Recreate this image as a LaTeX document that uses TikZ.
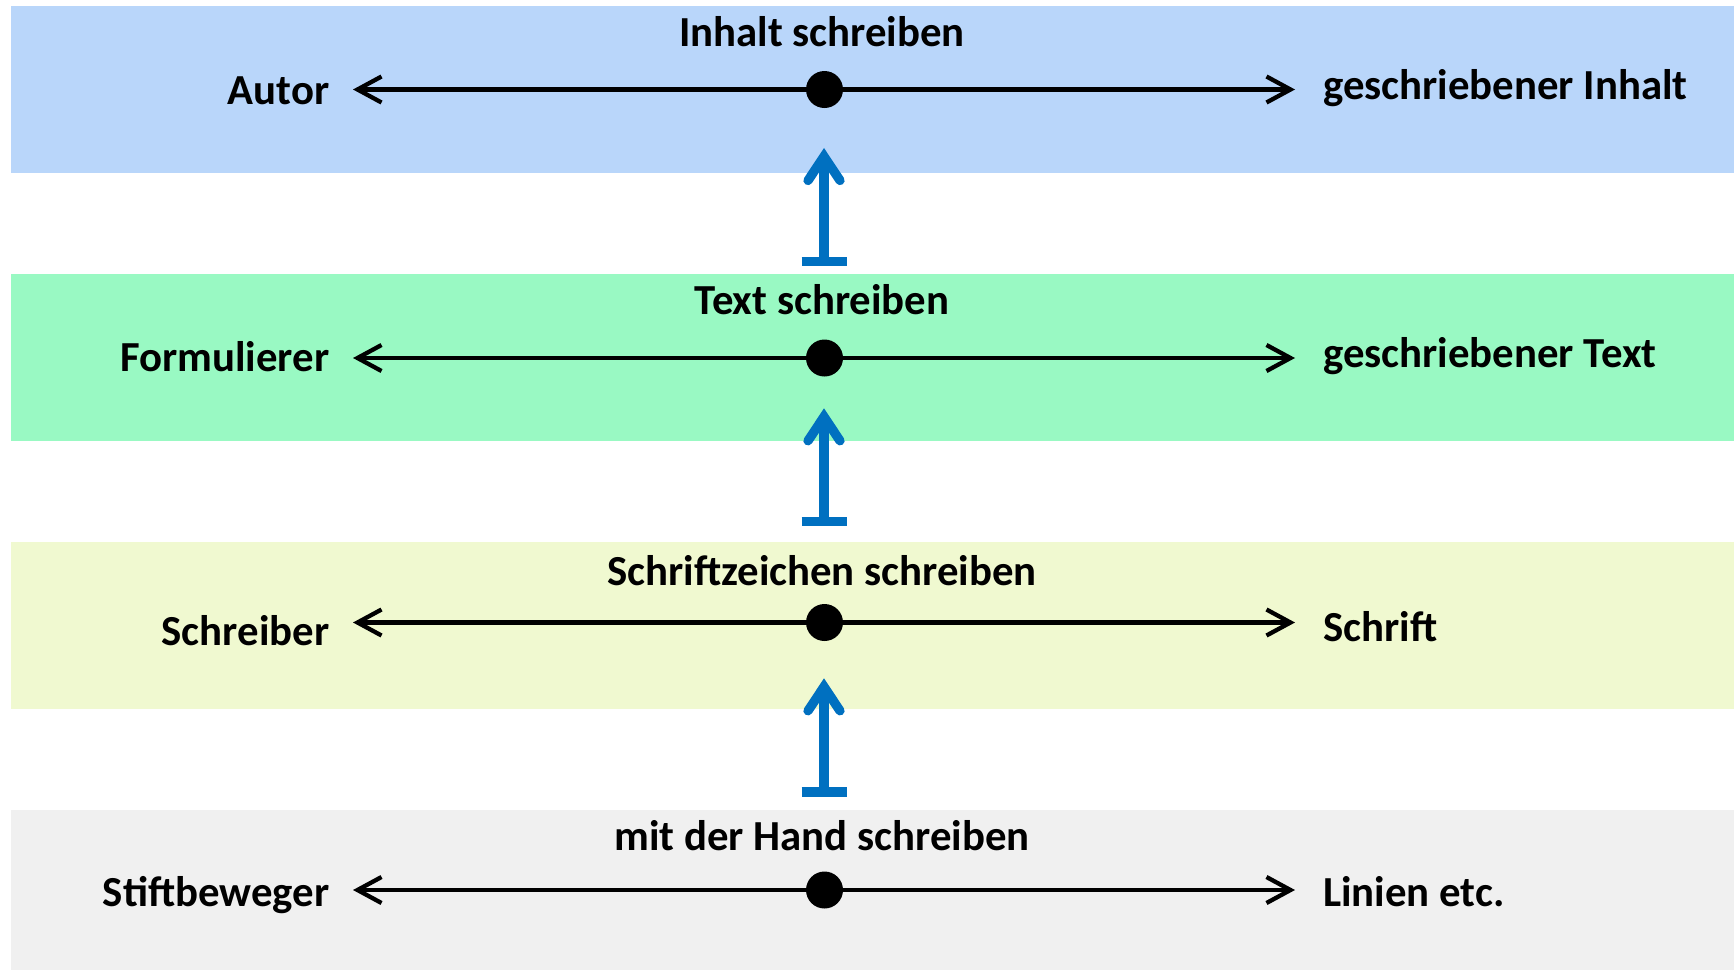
\documentclass[tikz,border=0pt]{standalone}
\usepackage{fontspec}
\setmainfont{Carlito}
\usetikzlibrary{arrows.meta,calc}
\definecolor{bandA}{RGB}{185,214,250}
\definecolor{bandB}{RGB}{153,249,195}
\definecolor{bandC}{RGB}{240,249,208}
\definecolor{bandD}{RGB}{240,240,240}
\definecolor{upblue}{RGB}{0,112,192}
\tikzset{
  band/.style={fill=#1,draw=none},
  lbl/.style={inner sep=0pt,font=\fontsize{42.8}{50}\selectfont\bfseries,text=black},
  dotnode/.style={circle,fill=black,inner sep=0pt,minimum size=37pt},
  blk/.style={line width=4.3pt,-{Straight Barb[length=24pt,width=26pt]}},
  shaft/.style={line width=9.3pt,draw=upblue,line cap=butt},
  barline/.style={line width=9.5pt,draw=upblue,line cap=butt},
  chev/.style={line width=9.3pt,draw=upblue,line cap=round,line join=miter}
}
\begin{document}
\begin{tikzpicture}[x=1pt,y=-1pt]
\useasboundingbox (0,0) rectangle (1734,970);
% bands
\fill[band=bandA] (11,6) rectangle (1734,172.7);
\fill[band=bandB] (11,274) rectangle (1734,440.7);
\fill[band=bandC] (11,541.7) rectangle (1734,709);
\fill[band=bandD] (11,810) rectangle (1734,970);

% band 1
\node[lbl,anchor=base] (t1) at (822,46.7) {Inhalt schreiben};
\node[lbl,anchor=base east] (l1) at (329.5,104) {Autor};
\node[lbl,anchor=base west] (r1) at (1323,99.3) {geschriebener Inhalt};
\node[dotnode] (d1) at (824.5,89.5) {};
\coordinate (la1) at (353,89.5);
\coordinate (ra1) at (1295,89.5);
\draw[blk] (d1) -- (la1);
\draw[blk] (d1) -- (ra1);

% band 2
\node[lbl,anchor=base] (t2) at (822,314.5) {Text schreiben};
\node[lbl,anchor=base east] (l2) at (329.5,371.7) {Formulierer};
\node[lbl,anchor=base west] (r2) at (1323,367) {geschriebener Text};
\node[dotnode] (d2) at (824.5,358) {};
\coordinate (la2) at (353,358);
\coordinate (ra2) at (1295,358);
\draw[blk] (d2) -- (la2);
\draw[blk] (d2) -- (ra2);

% band 3
\node[lbl,anchor=base] (t3) at (822,585) {Schriftzeichen schreiben};
\node[lbl,anchor=base east] (l3) at (329.5,645) {Schreiber};
\node[lbl,anchor=base west] (r3) at (1323,641) {Schrift};
\node[dotnode] (d3) at (824.5,622.5) {};
\coordinate (la3) at (353,622.5);
\coordinate (ra3) at (1295,622.5);
\draw[blk] (d3) -- (la3);
\draw[blk] (d3) -- (ra3);

% band 4
\node[lbl,anchor=base] (t4) at (822,850.6) {mit der Hand schreiben};
\node[lbl,anchor=base east] (l4) at (329.5,906.7) {Stiftbeweger};
\node[lbl,anchor=base west] (r4) at (1323,906.7) {Linien etc.};
\node[dotnode] (d4) at (824.5,890) {};
\coordinate (la4) at (353,890);
\coordinate (ra4) at (1295,890);
\draw[blk] (d4) -- (la4);
\draw[blk] (d4) -- (ra4);

% blue up arrows
\foreach \i/\tip/\bar in {1/148/261.5, 2/408.3/521.5, 3/678.3/792}{
  \coordinate (tip\i) at (824,\tip);
  \coordinate (bar\i) at (824,\bar);
  \draw[shaft] (bar\i) -- ($(tip\i)+(0,10)$);
  \draw[barline] ($(bar\i)+(-22.5,0)$) -- ($(bar\i)+(22.5,0)$);
  \draw[chev] ($(tip\i)+(-16,32.5)$) -- ($(tip\i)+(0,8.4)$) -- ($(tip\i)+(16,32.5)$);
}
\end{tikzpicture}
\end{document}
